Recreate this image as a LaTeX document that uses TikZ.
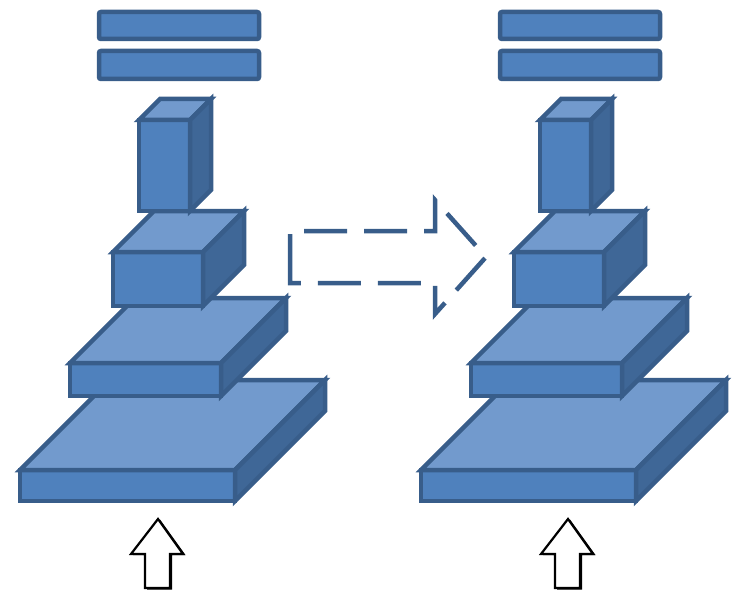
\documentclass[tikz,border=0pt]{standalone}
\definecolor{edge}{HTML}{385D8A}
\definecolor{frontc}{HTML}{4F81BD}
\definecolor{topc}{HTML}{729ACD}
\definecolor{sidec}{HTML}{3F6797}
\newcommand\cub[5]{%
  \filldraw[fill=frontc] (#1,#2) rectangle ++(#3,#4);
  \filldraw[fill=topc] (#1,#2) -- ++(#5,-#5) -- ++(#3,0) -- ++(-#5,#5) -- cycle;
  \filldraw[fill=sidec] (#1+#3,#2) -- ++(#5,-#5) -- ++(0,#4) -- ++(-#5,#5) -- cycle;}
\newcommand\stackfig{%
  \cub{20}{470}{215}{31}{90}
  \cub{70}{363}{151}{33}{65}
  \cub{113}{252}{90}{54}{41}
  \cub{139}{120}{51}{91}{21}
  \filldraw[fill=frontc,rounded corners=2] (99,12) rectangle (259,39);
  \filldraw[fill=frontc,rounded corners=2] (99,51) rectangle (259,79);}
\newcommand\uparr[1]{%
  \fill[black] (#1+2,519.5) -- (#1+27.5,555) -- (#1+14,555) -- (#1+14,589.5) -- (#1-11,589.5) -- (#1-11,555) -- (#1-25,555) -- cycle;
  \filldraw[fill=white,draw=black,line width=2.2pt] (#1,519) -- (#1+25,554) -- (#1+12,554) -- (#1+12,588) -- (#1-13,588) -- (#1-13,554) -- (#1-27,554) -- cycle;}
\begin{document}
\begin{tikzpicture}[x=1pt,y=-1pt,line width=4.5pt,draw=edge]
\useasboundingbox (0,0) rectangle (734,591);
\stackfig
\begin{scope}[xshift=401pt]
\stackfig
\end{scope}
\draw[edge,line width=4.5pt,dash pattern=on 43pt off 17pt] (290,277) -- (290,231) -- (435,231) -- (435,200) -- (486,257) -- (435,314) -- (435,283) -- (290,283) -- cycle;
\uparr{158}
\uparr{568}
\end{tikzpicture}
\end{document}
